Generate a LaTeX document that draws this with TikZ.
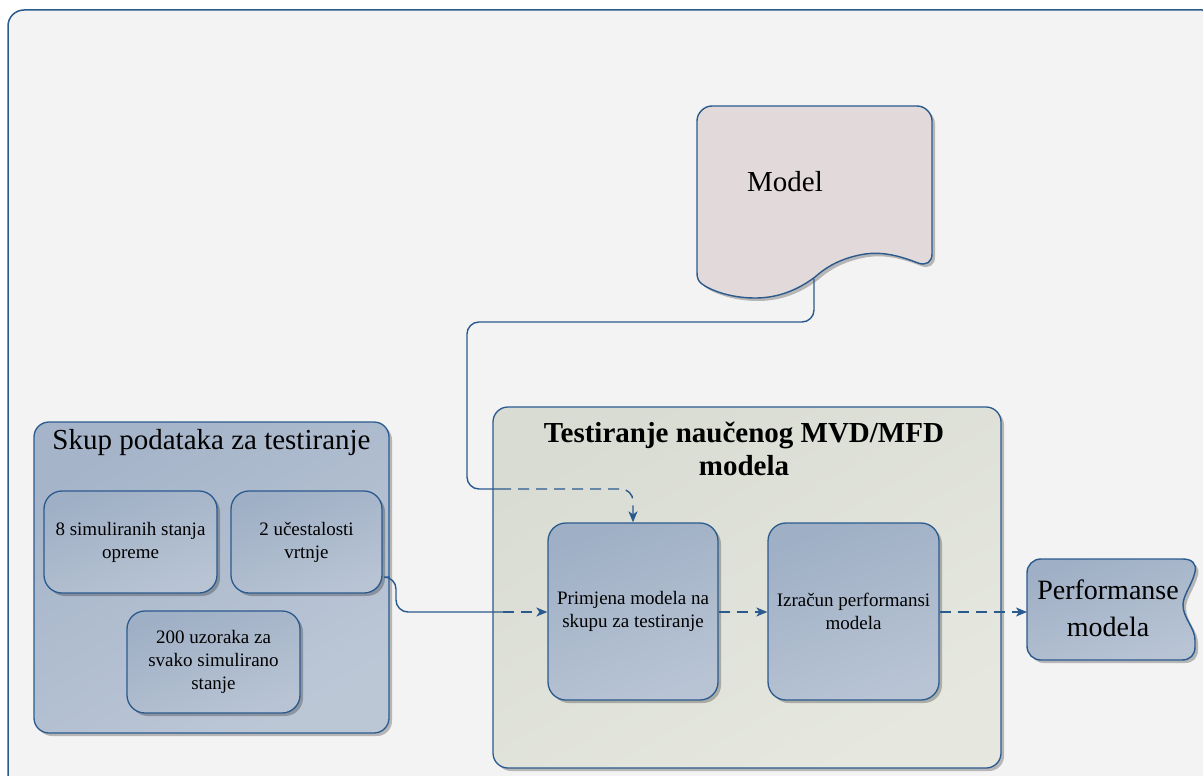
\documentclass[tikz,border=0pt]{standalone}
\usepackage{fontspec}
\setmainfont{Liberation Serif}
\usetikzlibrary{arrows.meta,shadows}
\definecolor{bord}{HTML}{2B5A8E}
\definecolor{bgc}{HTML}{F3F3F3}
\definecolor{boxa}{HTML}{9FAFC5}
\definecolor{boxb}{HTML}{B8C4D4}
\definecolor{grpa}{HTML}{A5B4C9}
\definecolor{grpb}{HTML}{BCC7D6}
\definecolor{grna}{HTML}{D9DCD2}
\definecolor{grnb}{HTML}{E6E8E0}
\definecolor{mdl}{HTML}{E2D9DA}
\tikzset{
  shad/.style={drop shadow={shadow xshift=3pt,shadow yshift=-3pt,fill=black,opacity=0.25}},
  grp/.style={draw=bord,line width=1.3pt,rounded corners=15pt,shad},
  inbox/.style={draw=bord,line width=1.3pt,rounded corners=18pt,top color=boxa,bottom color=boxb,shading angle=20,shad,
     align=center,font=\fontsize{19}{23}\selectfont},
  conn/.style={draw=bord,line width=1.4pt,rounded corners=12pt},
  dconn/.style={conn,dash pattern=on 11pt off 7pt},
  tip/.style={-{Stealth[length=11pt,width=9pt,inset=3pt]}},
}
\begin{document}
\begin{tikzpicture}[x=1pt,y=-1pt]
\useasboundingbox (0,0) rectangle (1203,776);
\begin{scope}
\clip (0,0) rectangle (1203,776);
\draw[bord,line width=1.5pt,fill=bgc,rounded corners=16pt] (8,10) rectangle (1218,795);
\end{scope}

% Model document
\path[draw=bord,line width=1.4pt,fill=mdl,shad]
  (697,121) .. controls (697,113) and (704,106) .. (712,106) -- (917,106)
  .. controls (925,106) and (932,113) .. (932,121) -- (932,254)
  .. controls (932,262) and (926,266) .. (918,263)
  .. controls (895,254) and (880,252) .. (865,254)
  .. controls (840,258) and (825,268) .. (815,277)
  .. controls (795,292) and (775,298) .. (755,298)
  .. controls (730,298) and (710,290) .. (702,284)
  .. controls (698,281) and (697,278) .. (697,272) -- cycle;
\node[font=\fontsize{29}{34}\selectfont] (model) at (785,182) {Model};
\coordinate (mdlout) at (814,279);

% Left group
\node[grp,top color=grpa,bottom color=grpb,shading angle=30,minimum width=355pt,minimum height=311pt] (skup) at (211.5,577.5) {};
\node[font=\fontsize{29}{34}\selectfont] (skupt) at (211.5,443) {Skup podataka za testiranje};
\node[inbox,minimum width=173pt,minimum height=102pt] (a) at (130.5,542) {8 simuliranih stanja\\opreme};
\node[inbox,minimum width=151pt,minimum height=102pt] (b) at (306.5,542) {2 učestalosti\\vrtnje};
\node[inbox,minimum width=173pt,minimum height=102pt] (c) at (213.5,662) {200 uzoraka za\\svako simulirano\\stanje};

% Right group
\node[grp,top color=grna,bottom color=grnb,shading angle=30,minimum width=508pt,minimum height=361pt] (test) at (747,587.5) {};
\node[font=\bfseries\fontsize{29}{33}\selectfont,align=center] (testt) at (744,449) {Testiranje naučenog MVD/MFD\\modela};
\node[inbox,minimum width=170pt,minimum height=177pt] (prim) at (633,611.5) {Primjena modela na\\skupu za testiranje};
\node[inbox,minimum width=171pt,minimum height=177pt] (izr) at (853.5,611.5) {Izračun performansi\\modela};

% Performanse
\path[draw=bord,line width=1.4pt,top color=boxa,bottom color=boxb,shading angle=20,shad]
  (1041,559) -- (1183,559) .. controls (1192,559) and (1197,564) .. (1195,572)
  .. controls (1192,585) and (1183,595) .. (1183,605)
  .. controls (1183,618) and (1195,628) .. (1195,640) -- (1195,647)
  .. controls (1195,655) and (1190,660) .. (1182,660) -- (1041,660)
  .. controls (1033,660) and (1027,654) .. (1027,646) -- (1027,573)
  .. controls (1027,565) and (1033,559) .. (1041,559) -- cycle;
\node[font=\fontsize{28}{37}\selectfont,align=center] (perf) at (1108,608) {Performanse\\modela};
\coordinate (perfin) at (1027,612);

% connectors
\coordinate (j1) at (500,489);
\draw[conn] (mdlout) -- (814,322) -- (467,322) -- (467,489) -- (j1);
\draw[dconn,tip] (j1) -- (633,489) -- (prim.north);
\coordinate (j2) at (503,612);
\draw[conn] (skup.east |- 0,577) -- (396,577) -- (396,612) -- (j2);
\draw[dconn,tip] (j2) -- (prim.west |- 0,612);
\draw[dconn,tip] (prim.east |- 0,612) -- (izr.west |- 0,612);
\draw[dconn,tip] (izr.east |- 0,612) -- (perfin);
\end{tikzpicture}
\end{document}
